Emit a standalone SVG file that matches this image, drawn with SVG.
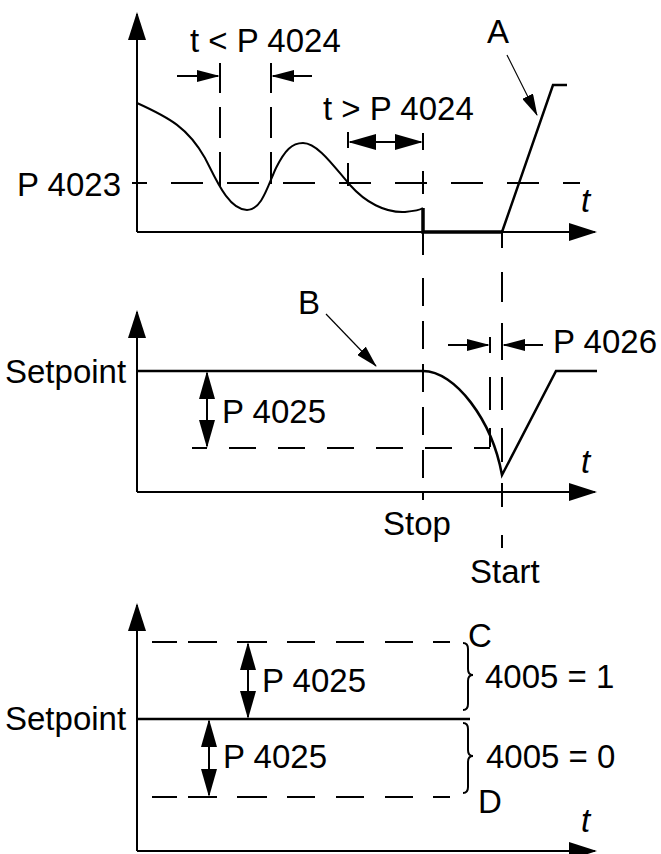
<svg xmlns="http://www.w3.org/2000/svg" width="661" height="854" viewBox="0 0 661 854">
<defs>
<style>
.ln{stroke:#000;stroke-width:2;fill:none}
.th{stroke:#000;stroke-width:2.5;fill:none}
.tk{stroke:#000;stroke-width:3.5;fill:none}
.dl{stroke:#000;stroke-width:2;fill:none}
.thin{stroke:#000;stroke-width:1.2;fill:none}
text{font-family:"Liberation Sans",Arial,Helvetica,sans-serif;font-size:33px;fill:#000}
.it{font-style:italic}
</style>
<marker id="ax" markerUnits="userSpaceOnUse" markerWidth="28" markerHeight="18" refX="26" refY="9" orient="auto-start-reverse"><path d="M0,0 L28,9 L0,18 Z" fill="#000"/></marker>
<marker id="dimS" markerUnits="userSpaceOnUse" markerWidth="23" markerHeight="12" refX="21" refY="6" orient="auto-start-reverse"><path d="M0,0 L23,6 L0,12 Z" fill="#000"/></marker>
<marker id="dimL" markerUnits="userSpaceOnUse" markerWidth="28" markerHeight="16" refX="26" refY="8" orient="auto-start-reverse"><path d="M0,0 L28,8 L0,16 Z" fill="#000"/></marker>
<marker id="lead" markerUnits="userSpaceOnUse" markerWidth="22" markerHeight="12" refX="21" refY="6" orient="auto"><path d="M0,0 L22,6 L0,12 Z" fill="#000"/></marker>
</defs>
<rect width="661" height="854" fill="#fff"/>

<g id="top-panel">
<g id="top-axes">
<line class="ln" x1="137" y1="232" x2="137" y2="14" marker-end="url(#ax)"/>
<line class="ln" x1="137" y1="232" x2="595" y2="232" marker-end="url(#ax)"/>
<text class="it" x="581" y="212">t</text>
</g>
<g id="p4023">
<line class="dl" x1="132" y1="183" x2="580" y2="183" stroke-dasharray="32 24" stroke-dashoffset="17"/>
<text x="17" y="196">P 4023</text>
</g>
<g id="signal">
<path class="ln" d="M137,103 C170,118 188,128 205,158 C215,177 228,210 247,210 C262,210 268,185 276,168 C285,150 292,143 303,143 C318,143 335,168 350,185 C365,202 385,213 405,212 C415,211 420,210 423,208"/>
<path class="tk" d="M423,208 V232 H502"/>
<path class="th" d="M502,232 L553,85 H567"/>
</g>
<g id="t-less">
<path class="dl" d="M220,63V93 M220,107V138 M220,152V187 M271,63V93 M271,107V138 M271,152V184"/>
<line class="ln" x1="177" y1="76" x2="218" y2="76" marker-end="url(#dimS)"/>
<line class="ln" x1="312" y1="76" x2="273" y2="76" marker-end="url(#dimS)"/>
<text x="190" y="52">t &lt; P 4024</text>
</g>
<g id="t-greater">
<path class="dl" d="M348,132V148 M348,163V186"/>
<line class="ln" x1="350" y1="142" x2="421" y2="142" marker-start="url(#dimL)" marker-end="url(#dimL)"/>
<text x="323" y="120">t &gt; P 4024</text>
</g>
<g id="label-a">
<text x="487" y="43">A</text>
</g>
</g>

<g id="stop-start-lines">
<path class="dl" d="M423,133V150 M423,171V194 M423,232V255 M423,278V306 M423,321V349 M423,364V392 M423,407V435 M423,450V478 M423,492V500"/>
<path class="dl" d="M502,232V248 M502,272V302 M502,323V360 M502,377V410 M502,428V462 M502,483V507 M502,535V548"/>
<text x="383" y="535">Stop</text>
<text x="470" y="583">Start</text>
</g>

<g id="middle-panel">
<g id="mid-axes">
<line class="ln" x1="137" y1="492" x2="137" y2="312" marker-end="url(#ax)"/>
<line class="ln" x1="137" y1="492" x2="595" y2="492" marker-end="url(#ax)"/>
<text class="it" x="581" y="473">t</text>
<text x="5" y="383">Setpoint</text>
</g>
<g id="mid-signal">
<path class="th" d="M137,371 H423 C455,371 492,420 502,475 L556,371 H597"/>
</g>
<g id="mid-p4025">
<line class="dl" x1="192" y1="448" x2="490" y2="448" stroke-dasharray="27 22" stroke-dashoffset="12"/>
<line class="ln" x1="207" y1="373" x2="207" y2="446" marker-start="url(#dimL)" marker-end="url(#dimL)"/>
<text x="222" y="423">P 4025</text>
</g>
<g id="p4026">
<path class="dl" d="M490,337V353 M490,377V410 M490,428V447"/>
<line class="ln" x1="448" y1="345" x2="488" y2="345" marker-end="url(#dimS)"/>
<line class="ln" x1="543" y1="345" x2="504" y2="345" marker-end="url(#dimS)"/>
<text x="553" y="353">P 4026</text>
</g>
<g id="label-b">
<text x="298" y="314">B</text>
</g>
</g>

<g id="bottom-panel">
<g id="bot-axes">
<line class="ln" x1="137" y1="851" x2="137" y2="605" marker-end="url(#ax)"/>
<line class="ln" x1="137" y1="851" x2="595" y2="851" marker-end="url(#ax)"/>
<text class="it" x="581" y="832">t</text>
<text x="5" y="730">Setpoint</text>
</g>
<g id="bot-setpoint">
<line class="th" x1="137" y1="719" x2="470" y2="719"/>
</g>
<g id="bot-limits">
<path class="dl" d="M152,642H177 M188,642H217 M237,642H267 M287,642H315 M336,642H364 M385,642H413 M433,642H450"/>
<path class="dl" d="M152,797H177 M188,797H217 M237,797H267 M287,797H315 M336,797H364 M385,797H413 M433,797H450"/>
<line class="ln" x1="248" y1="644" x2="248" y2="717" marker-start="url(#dimL)" marker-end="url(#dimL)"/>
<text x="262" y="692">P 4025</text>
<line class="ln" x1="209" y1="721" x2="209" y2="795" marker-start="url(#dimL)" marker-end="url(#dimL)"/>
<text x="223" y="768">P 4025</text>
</g>
<g id="brace-c">
<path class="ln" d="M463,643 Q468,643 468,649 L468,669 Q468,675 473,675 Q468,675 468,681 L468,704 Q468,710 463,710"/>
<text x="468" y="647">C</text>
<text x="485" y="688">4005 = 1</text>
</g>
<g id="brace-d">
<path class="ln" d="M463,723 Q468,723 468,729 L468,750 Q468,756 473,756 Q468,756 468,762 L468,787 Q468,793 463,793"/>
<text x="478" y="813">D</text>
<text x="486" y="768">4005 = 0</text>
</g>
</g>

<g id="connectors">
<line class="thin" x1="507" y1="55" x2="537" y2="115" marker-end="url(#lead)"/>
<line class="thin" x1="326" y1="314" x2="376" y2="366" marker-end="url(#lead)"/>
</g>
</svg>
